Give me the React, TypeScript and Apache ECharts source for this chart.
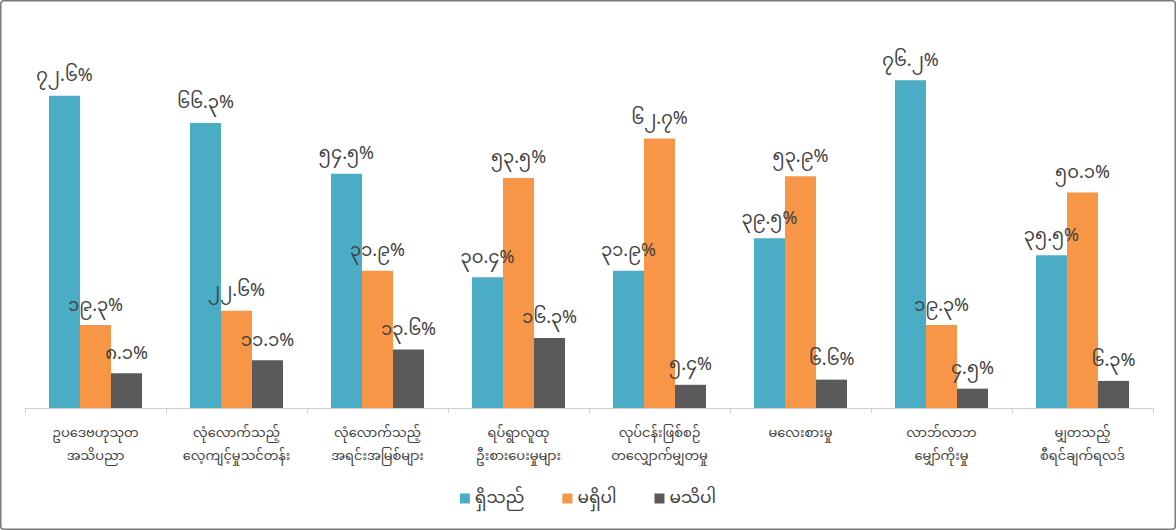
import React, { useEffect, useRef } from "react";
import * as echarts from "echarts";

const categories = [
  "ဥပဒေဗဟုသုတ\nအသိပညာ",
  "လုံလောက်သည့်\nလေ့ကျင့်မှုသင်တန်း",
  "လုံလောက်သည့်\nအရင်းအမြစ်များ",
  "ရပ်ရွာလူထု\nဦးစားပေးမှုများ",
  "လုပ်ငန်းဖြစ်စဉ်\nတလျှောက်မျှတမှု",
  "မလေးစားမှု",
  "လာဘ်လာဘ\nမျှော်ကိုးမှု",
  "မျှတသည့်\nစီရင်ချက်ရလဒ်",
];

const seriesNames = ["ရှိသည်", "မရှိပါ", "မသိပါ"];
const yesValues = [72.6, 66.3, 54.5, 30.4, 31.9, 39.5, 76.2, 35.5];
const noValues = [19.3, 22.6, 31.9, 53.5, 62.7, 53.9, 19.3, 50.1];
const dontKnowValues = [8.1, 11.1, 13.6, 16.3, 5.4, 6.6, 4.5, 6.3];
const colors = ["#4bacc6", "#f79646", "#5a5a5a"];

const myDigits = ["၀", "၁", "၂", "၃", "၄", "၅", "၆", "၇", "၈", "၉"];
const toMyanmar = (v: number) =>
  v
    .toFixed(1)
    .replace(/[0-9]/g, (d) => myDigits[Number(d)]) + "%";

const FONT = '"Noto Sans Myanmar", "Padauk", "Myanmar Text", "Noto Sans", sans-serif';

export default function App() {
  const ref = useRef<HTMLDivElement>(null);
  useEffect(() => {
    if (!ref.current) return;
    const chart = echarts.init(ref.current, null, { renderer: "svg" });
    const data = [yesValues, noValues, dontKnowValues];
    chart.setOption({
      animation: false,
      backgroundColor: "#ffffff",
      textStyle: { fontFamily: FONT },
      grid: { left: 25, right: 23, top: 21, bottom: 122 },
      xAxis: {
        type: "category",
        data: categories,
        axisLine: { lineStyle: { color: "#d0d0d0", width: 1 } },
        axisTick: { show: true, length: 5, lineStyle: { color: "#d0d0d0" } },
        axisLabel: {
          color: "#404040",
          fontSize: 13,
          lineHeight: 23,
          margin: 14,
          interval: 0,
          fontFamily: FONT,
        },
      },
      yAxis: { type: "value", min: 0, max: 90, show: false, splitLine: { show: false } },
      legend: {
        bottom: 18,
        left: "center",
        itemWidth: 10,
        itemHeight: 10,
        itemGap: 38,
        icon: "rect",
        textStyle: { color: "#404040", fontSize: 17, fontFamily: FONT },
        data: seriesNames,
      },
      series: seriesNames.map((name, i) => ({
        name,
        type: "bar",
        data: data[i],
        barWidth: "22%",
        barGap: "0%",
        itemStyle: { color: colors[i] },
        label: {
          show: true,
          position: "top",
          distance: 10,
          color: "#404040",
          fontSize: 18,
          fontFamily: FONT,
          formatter: (p: any) => toMyanmar(p.value),
        },
      })),
      graphic: [
        {
          type: "rect",
          shape: { x: 0.75, y: 0.75, width: 1174.5, height: 528.5, r: 3 },
          style: { fill: "none", stroke: "#7a7a7a", lineWidth: 1.5 },
          silent: true,
        },
      ],
    });
    return () => chart.dispose();
  }, []);
  return (
    <div
      ref={ref}
      style={{ position: "absolute", left: 0, top: 0, width: 1176, height: 530 }}
    />
  );
}
